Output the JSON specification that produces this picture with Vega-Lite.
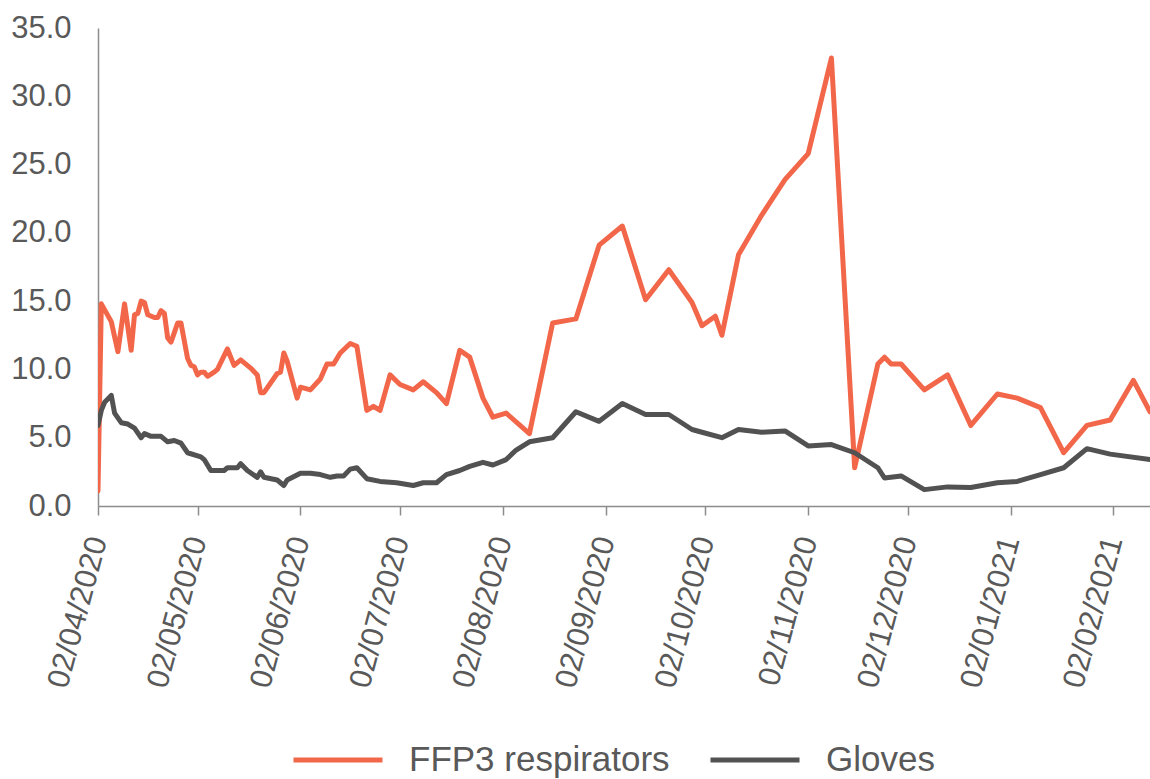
{
  "$schema": "https://vega.github.io/schema/vega-lite/v6.json",
  "width": 1052,
  "height": 478,
  "autosize": {"type": "none"},
  "padding": {"left": 98, "top": 28, "right": 0, "bottom": 273},
  "background": "white",
  "config": {
    "font": "Liberation Sans",
    "view": {"stroke": null},
    "axis": {"labelFont": "Liberation Sans", "labelColor": "#595959", "labelFontSize": 31, "domainColor": "#8c8c8c", "tickColor": "#8c8c8c", "grid": false, "title": null}
  },
  "data": {
    "values": [
      {"date": "2020-04-02", "series": "FFP3 respirators", "value": 1.1},
      {"date": "2020-04-03", "series": "FFP3 respirators", "value": 14.8},
      {"date": "2020-04-06", "series": "FFP3 respirators", "value": 13.5},
      {"date": "2020-04-08", "series": "FFP3 respirators", "value": 11.3},
      {"date": "2020-04-10", "series": "FFP3 respirators", "value": 14.8},
      {"date": "2020-04-12", "series": "FFP3 respirators", "value": 11.4},
      {"date": "2020-04-13", "series": "FFP3 respirators", "value": 14.0},
      {"date": "2020-04-14", "series": "FFP3 respirators", "value": 14.1},
      {"date": "2020-04-15", "series": "FFP3 respirators", "value": 15.0},
      {"date": "2020-04-16", "series": "FFP3 respirators", "value": 14.9},
      {"date": "2020-04-17", "series": "FFP3 respirators", "value": 14.0},
      {"date": "2020-04-19", "series": "FFP3 respirators", "value": 13.8},
      {"date": "2020-04-20", "series": "FFP3 respirators", "value": 13.8},
      {"date": "2020-04-21", "series": "FFP3 respirators", "value": 14.3},
      {"date": "2020-04-22", "series": "FFP3 respirators", "value": 14.1},
      {"date": "2020-04-23", "series": "FFP3 respirators", "value": 12.3},
      {"date": "2020-04-24", "series": "FFP3 respirators", "value": 12.0},
      {"date": "2020-04-26", "series": "FFP3 respirators", "value": 13.4},
      {"date": "2020-04-27", "series": "FFP3 respirators", "value": 13.4},
      {"date": "2020-04-29", "series": "FFP3 respirators", "value": 10.8},
      {"date": "2020-04-30", "series": "FFP3 respirators", "value": 10.3},
      {"date": "2020-05-01", "series": "FFP3 respirators", "value": 10.2},
      {"date": "2020-05-02", "series": "FFP3 respirators", "value": 9.6},
      {"date": "2020-05-03", "series": "FFP3 respirators", "value": 9.8},
      {"date": "2020-05-04", "series": "FFP3 respirators", "value": 9.8},
      {"date": "2020-05-05", "series": "FFP3 respirators", "value": 9.5},
      {"date": "2020-05-07", "series": "FFP3 respirators", "value": 9.8},
      {"date": "2020-05-08", "series": "FFP3 respirators", "value": 10.0},
      {"date": "2020-05-11", "series": "FFP3 respirators", "value": 11.5},
      {"date": "2020-05-13", "series": "FFP3 respirators", "value": 10.3},
      {"date": "2020-05-15", "series": "FFP3 respirators", "value": 10.7},
      {"date": "2020-05-18", "series": "FFP3 respirators", "value": 10.1},
      {"date": "2020-05-20", "series": "FFP3 respirators", "value": 9.6},
      {"date": "2020-05-21", "series": "FFP3 respirators", "value": 8.3},
      {"date": "2020-05-22", "series": "FFP3 respirators", "value": 8.3},
      {"date": "2020-05-26", "series": "FFP3 respirators", "value": 9.7},
      {"date": "2020-05-27", "series": "FFP3 respirators", "value": 9.8},
      {"date": "2020-05-28", "series": "FFP3 respirators", "value": 11.2},
      {"date": "2020-05-29", "series": "FFP3 respirators", "value": 10.6},
      {"date": "2020-06-01", "series": "FFP3 respirators", "value": 7.9},
      {"date": "2020-06-02", "series": "FFP3 respirators", "value": 8.7},
      {"date": "2020-06-05", "series": "FFP3 respirators", "value": 8.5},
      {"date": "2020-06-08", "series": "FFP3 respirators", "value": 9.3},
      {"date": "2020-06-10", "series": "FFP3 respirators", "value": 10.4},
      {"date": "2020-06-12", "series": "FFP3 respirators", "value": 10.4},
      {"date": "2020-06-14", "series": "FFP3 respirators", "value": 11.2},
      {"date": "2020-06-17", "series": "FFP3 respirators", "value": 11.9},
      {"date": "2020-06-19", "series": "FFP3 respirators", "value": 11.7},
      {"date": "2020-06-22", "series": "FFP3 respirators", "value": 7.0},
      {"date": "2020-06-24", "series": "FFP3 respirators", "value": 7.3},
      {"date": "2020-06-26", "series": "FFP3 respirators", "value": 7.0},
      {"date": "2020-06-29", "series": "FFP3 respirators", "value": 9.6},
      {"date": "2020-07-02", "series": "FFP3 respirators", "value": 8.9},
      {"date": "2020-07-06", "series": "FFP3 respirators", "value": 8.5},
      {"date": "2020-07-09", "series": "FFP3 respirators", "value": 9.1},
      {"date": "2020-07-13", "series": "FFP3 respirators", "value": 8.3},
      {"date": "2020-07-16", "series": "FFP3 respirators", "value": 7.5},
      {"date": "2020-07-20", "series": "FFP3 respirators", "value": 11.4},
      {"date": "2020-07-23", "series": "FFP3 respirators", "value": 10.9},
      {"date": "2020-07-27", "series": "FFP3 respirators", "value": 7.9},
      {"date": "2020-07-30", "series": "FFP3 respirators", "value": 6.5},
      {"date": "2020-08-03", "series": "FFP3 respirators", "value": 6.8},
      {"date": "2020-08-10", "series": "FFP3 respirators", "value": 5.3},
      {"date": "2020-08-17", "series": "FFP3 respirators", "value": 13.4},
      {"date": "2020-08-24", "series": "FFP3 respirators", "value": 13.7},
      {"date": "2020-08-31", "series": "FFP3 respirators", "value": 19.1},
      {"date": "2020-09-07", "series": "FFP3 respirators", "value": 20.5},
      {"date": "2020-09-14", "series": "FFP3 respirators", "value": 15.1},
      {"date": "2020-09-21", "series": "FFP3 respirators", "value": 17.3},
      {"date": "2020-09-28", "series": "FFP3 respirators", "value": 14.9},
      {"date": "2020-10-01", "series": "FFP3 respirators", "value": 13.2},
      {"date": "2020-10-05", "series": "FFP3 respirators", "value": 13.9},
      {"date": "2020-10-07", "series": "FFP3 respirators", "value": 12.5},
      {"date": "2020-10-12", "series": "FFP3 respirators", "value": 18.4},
      {"date": "2020-10-19", "series": "FFP3 respirators", "value": 21.3},
      {"date": "2020-10-26", "series": "FFP3 respirators", "value": 23.9},
      {"date": "2020-11-02", "series": "FFP3 respirators", "value": 25.8},
      {"date": "2020-11-09", "series": "FFP3 respirators", "value": 32.8},
      {"date": "2020-11-16", "series": "FFP3 respirators", "value": 2.8},
      {"date": "2020-11-23", "series": "FFP3 respirators", "value": 10.4},
      {"date": "2020-11-25", "series": "FFP3 respirators", "value": 10.9},
      {"date": "2020-11-27", "series": "FFP3 respirators", "value": 10.4},
      {"date": "2020-11-30", "series": "FFP3 respirators", "value": 10.4},
      {"date": "2020-12-07", "series": "FFP3 respirators", "value": 8.5},
      {"date": "2020-12-14", "series": "FFP3 respirators", "value": 9.6},
      {"date": "2020-12-21", "series": "FFP3 respirators", "value": 5.9},
      {"date": "2020-12-29", "series": "FFP3 respirators", "value": 8.2},
      {"date": "2021-01-04", "series": "FFP3 respirators", "value": 7.9},
      {"date": "2021-01-11", "series": "FFP3 respirators", "value": 7.2},
      {"date": "2021-01-18", "series": "FFP3 respirators", "value": 3.9},
      {"date": "2021-01-25", "series": "FFP3 respirators", "value": 5.9},
      {"date": "2021-02-01", "series": "FFP3 respirators", "value": 6.3},
      {"date": "2021-02-08", "series": "FFP3 respirators", "value": 9.2},
      {"date": "2021-02-13", "series": "FFP3 respirators", "value": 6.9},
      {"date": "2020-04-02", "series": "Gloves", "value": 5.9},
      {"date": "2020-04-03", "series": "Gloves", "value": 7.0},
      {"date": "2020-04-04", "series": "Gloves", "value": 7.6},
      {"date": "2020-04-06", "series": "Gloves", "value": 8.1},
      {"date": "2020-04-07", "series": "Gloves", "value": 6.8},
      {"date": "2020-04-09", "series": "Gloves", "value": 6.1},
      {"date": "2020-04-11", "series": "Gloves", "value": 6.0},
      {"date": "2020-04-13", "series": "Gloves", "value": 5.7},
      {"date": "2020-04-15", "series": "Gloves", "value": 5.0},
      {"date": "2020-04-16", "series": "Gloves", "value": 5.3},
      {"date": "2020-04-18", "series": "Gloves", "value": 5.1},
      {"date": "2020-04-21", "series": "Gloves", "value": 5.1},
      {"date": "2020-04-23", "series": "Gloves", "value": 4.7},
      {"date": "2020-04-25", "series": "Gloves", "value": 4.8},
      {"date": "2020-04-27", "series": "Gloves", "value": 4.6},
      {"date": "2020-04-29", "series": "Gloves", "value": 3.9},
      {"date": "2020-05-03", "series": "Gloves", "value": 3.6},
      {"date": "2020-05-04", "series": "Gloves", "value": 3.4},
      {"date": "2020-05-06", "series": "Gloves", "value": 2.6},
      {"date": "2020-05-10", "series": "Gloves", "value": 2.6},
      {"date": "2020-05-11", "series": "Gloves", "value": 2.8},
      {"date": "2020-05-14", "series": "Gloves", "value": 2.8},
      {"date": "2020-05-15", "series": "Gloves", "value": 3.1},
      {"date": "2020-05-17", "series": "Gloves", "value": 2.6},
      {"date": "2020-05-20", "series": "Gloves", "value": 2.1},
      {"date": "2020-05-21", "series": "Gloves", "value": 2.5},
      {"date": "2020-05-22", "series": "Gloves", "value": 2.1},
      {"date": "2020-05-26", "series": "Gloves", "value": 1.9},
      {"date": "2020-05-28", "series": "Gloves", "value": 1.5},
      {"date": "2020-05-29", "series": "Gloves", "value": 1.9},
      {"date": "2020-06-02", "series": "Gloves", "value": 2.4},
      {"date": "2020-06-05", "series": "Gloves", "value": 2.4},
      {"date": "2020-06-08", "series": "Gloves", "value": 2.3},
      {"date": "2020-06-11", "series": "Gloves", "value": 2.1},
      {"date": "2020-06-13", "series": "Gloves", "value": 2.2},
      {"date": "2020-06-15", "series": "Gloves", "value": 2.2},
      {"date": "2020-06-17", "series": "Gloves", "value": 2.7},
      {"date": "2020-06-19", "series": "Gloves", "value": 2.8},
      {"date": "2020-06-22", "series": "Gloves", "value": 2.0},
      {"date": "2020-06-26", "series": "Gloves", "value": 1.8},
      {"date": "2020-07-01", "series": "Gloves", "value": 1.7},
      {"date": "2020-07-06", "series": "Gloves", "value": 1.5},
      {"date": "2020-07-09", "series": "Gloves", "value": 1.7},
      {"date": "2020-07-13", "series": "Gloves", "value": 1.7},
      {"date": "2020-07-16", "series": "Gloves", "value": 2.3},
      {"date": "2020-07-20", "series": "Gloves", "value": 2.6},
      {"date": "2020-07-23", "series": "Gloves", "value": 2.9},
      {"date": "2020-07-27", "series": "Gloves", "value": 3.2},
      {"date": "2020-07-30", "series": "Gloves", "value": 3.0},
      {"date": "2020-08-03", "series": "Gloves", "value": 3.4},
      {"date": "2020-08-06", "series": "Gloves", "value": 4.1},
      {"date": "2020-08-10", "series": "Gloves", "value": 4.7},
      {"date": "2020-08-17", "series": "Gloves", "value": 5.0},
      {"date": "2020-08-24", "series": "Gloves", "value": 6.9},
      {"date": "2020-08-31", "series": "Gloves", "value": 6.2},
      {"date": "2020-09-07", "series": "Gloves", "value": 7.5},
      {"date": "2020-09-14", "series": "Gloves", "value": 6.7},
      {"date": "2020-09-21", "series": "Gloves", "value": 6.7},
      {"date": "2020-09-28", "series": "Gloves", "value": 5.6},
      {"date": "2020-10-01", "series": "Gloves", "value": 5.4},
      {"date": "2020-10-07", "series": "Gloves", "value": 5.0},
      {"date": "2020-10-12", "series": "Gloves", "value": 5.6},
      {"date": "2020-10-19", "series": "Gloves", "value": 5.4},
      {"date": "2020-10-26", "series": "Gloves", "value": 5.5},
      {"date": "2020-11-02", "series": "Gloves", "value": 4.4},
      {"date": "2020-11-09", "series": "Gloves", "value": 4.5},
      {"date": "2020-11-16", "series": "Gloves", "value": 3.9},
      {"date": "2020-11-23", "series": "Gloves", "value": 2.8},
      {"date": "2020-11-25", "series": "Gloves", "value": 2.05},
      {"date": "2020-11-30", "series": "Gloves", "value": 2.2},
      {"date": "2020-12-07", "series": "Gloves", "value": 1.2},
      {"date": "2020-12-14", "series": "Gloves", "value": 1.4},
      {"date": "2020-12-21", "series": "Gloves", "value": 1.35},
      {"date": "2020-12-29", "series": "Gloves", "value": 1.7},
      {"date": "2021-01-04", "series": "Gloves", "value": 1.8},
      {"date": "2021-01-11", "series": "Gloves", "value": 2.3},
      {"date": "2021-01-18", "series": "Gloves", "value": 2.8},
      {"date": "2021-01-25", "series": "Gloves", "value": 4.2},
      {"date": "2021-02-01", "series": "Gloves", "value": 3.8},
      {"date": "2021-02-13", "series": "Gloves", "value": 3.4}
    ]
  },
  "mark": {"type": "line", "strokeWidth": 5, "strokeJoin": "round", "strokeCap": "round", "clip": true},
  "encoding": {
    "x": {
      "field": "date",
      "type": "temporal",
      "scale": {"type": "utc", "domain": [{"year": 2020, "month": 4, "date": 2, "utc": true}, {"year": 2021, "month": 2, "date": 13, "utc": true}]},
      "axis": {
        "format": "%d/%m/%Y",
        "values": [
          {"year": 2020, "month": 4, "date": 2, "utc": true},
          {"year": 2020, "month": 5, "date": 2, "utc": true},
          {"year": 2020, "month": 6, "date": 2, "utc": true},
          {"year": 2020, "month": 7, "date": 2, "utc": true},
          {"year": 2020, "month": 8, "date": 2, "utc": true},
          {"year": 2020, "month": 9, "date": 2, "utc": true},
          {"year": 2020, "month": 10, "date": 2, "utc": true},
          {"year": 2020, "month": 11, "date": 2, "utc": true},
          {"year": 2020, "month": 12, "date": 2, "utc": true},
          {"year": 2021, "month": 1, "date": 2, "utc": true},
          {"year": 2021, "month": 2, "date": 2, "utc": true}
        ],
        "labelAngle": -75,
        "labelAlign": "right",
        "labelBaseline": "middle",
        "labelDx": 0,
        "labelDy": 6,
        "tickSize": 9,
        "labelPadding": 22,
        "labelFlush": false,
        "labelBound": false,
        "labelOverlap": false,
        "labelLimit": 400,
        "domainWidth": 1.5,
        "tickWidth": 1.5
      }
    },
    "y": {
      "field": "value",
      "type": "quantitative",
      "scale": {"domain": [0, 35], "nice": false, "zero": true},
      "axis": {
        "values": [0, 5, 10, 15, 20, 25, 30, 35],
        "format": ".1f",
        "ticks": false,
        "tickSize": 0,
        "labelPadding": 27,
        "domainWidth": 1.5
      }
    },
    "color": {
      "field": "series",
      "type": "nominal",
      "scale": {"domain": ["FFP3 respirators", "Gloves"], "range": ["#F2674A", "#525252"]},
      "legend": {
        "title": null,
        "orient": "none",
        "direction": "horizontal",
        "legendX": 193,
        "legendY": 685,
        "symbolType": "stroke",
        "symbolSize": 7921,
        "symbolStrokeWidth": 5,
        "labelFont": "Liberation Sans",
        "labelFontSize": 35,
        "labelColor": "#595959",
        "labelOffset": 24,
        "labelLimit": 500,
        "columnPadding": 30
      }
    }
  }
}
